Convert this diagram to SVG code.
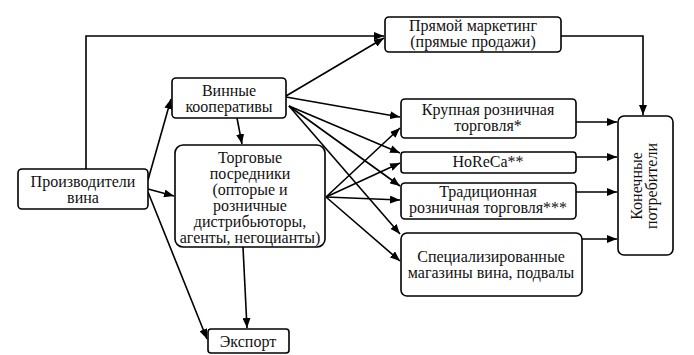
<svg xmlns="http://www.w3.org/2000/svg" width="694" height="355" viewBox="0 0 694 355">
<style>
.box{fill:#fff;stroke:#000;stroke-width:1.6}
text{font-family:'Liberation Serif','Times New Roman','DejaVu Serif',serif;font-size:16px;fill:#111;text-anchor:middle}
.c{fill:none;stroke:#000;stroke-width:1.6;marker-end:url(#ah)}
</style>
<defs>
<marker id="ah" viewBox="0 0 10 8" refX="10" refY="4" markerWidth="10" markerHeight="8" markerUnits="userSpaceOnUse" orient="auto">
<path d="M0,0 L10,4 L0,8 z" fill="#000"/>
</marker>
</defs>
<rect width="694" height="355" fill="#fff"/>
<g id="connectors">
<path class="c" d="M86,169 V36 H384"/>
<path class="c" d="M286,96 L384,38"/>
<path class="c" d="M561,36 H643 V115"/>
<path class="c" d="M148,180 L171,99"/>
<path class="c" d="M148,189 L174,196"/>
<path class="c" d="M148,192 L207,339"/>
<path class="c" d="M237,118 L242,144"/>
<path class="c" d="M243,247 L247,328"/>
<path class="c" d="M286,97 L400,117"/>
<path class="c" d="M289,106 L400,153"/>
<path class="c" d="M289,106 L400,186"/>
<path class="c" d="M289,106 L400,234"/>
<path class="c" d="M326,197 L400,128"/>
<path class="c" d="M326,197 L400,163"/>
<path class="c" d="M326,197 L400,200"/>
<path class="c" d="M326,197 L400,261"/>
<path class="c" d="M576,122 H617"/>
<path class="c" d="M576,157 H617"/>
<path class="c" d="M576,192 H617"/>
<path class="c" d="M582,239 H617"/>
</g>
<g id="producers">
<rect class="box" x="18" y="169" width="130" height="40" rx="4"/>
<text font-family="Liberation Serif" x="83" y="187">Производители</text>
<text font-family="Liberation Serif" x="83" y="203">вина</text>
</g>
<g id="coops">
<rect class="box" x="172" y="78" width="114" height="40" rx="4"/>
<text x="229" y="96">Винные</text>
<text x="229" y="112">кооперативы</text>
</g>
<g id="intermediaries">
<rect class="box" x="175" y="145" width="150" height="102" rx="8"/>
<text x="250" y="163">Торговые</text>
<text x="250" y="179">посредники</text>
<text x="250" y="195">(опторые и</text>
<text x="250" y="211">розничные</text>
<text x="250" y="227">дистрибьюторы,</text>
<text x="250" y="243">агенты, негоцианты)</text>
</g>
<g id="export">
<rect class="box" x="208" y="329" width="81" height="24" rx="3"/>
<text x="248" y="347">Экспорт</text>
</g>
<g id="direct">
<rect class="box" x="385" y="17" width="176" height="35" rx="4"/>
<text x="473" y="31">Прямой маркетинг</text>
<text x="473" y="47">(прямые продажи)</text>
</g>
<g id="large-retail">
<rect class="box" x="401" y="99" width="175" height="39" rx="4"/>
<text x="488" y="115">Крупная розничная</text>
<text x="488" y="131">торговля*</text>
</g>
<g id="horeca">
<rect class="box" x="401" y="152" width="175" height="21" rx="3"/>
<text x="488" y="167">HoReCa**</text>
</g>
<g id="traditional">
<rect class="box" x="401" y="183" width="175" height="36" rx="4"/>
<text x="488" y="197">Традиционная</text>
<text x="488" y="213">розничная торговля***</text>
</g>
<g id="specialized">
<rect class="box" x="401" y="233" width="181" height="63" rx="6"/>
<text x="491" y="262">Специализированные</text>
<text x="491" y="278">магазины вина, подвалы</text>
</g>
<g id="consumers">
<rect class="box" x="618" y="116" width="55" height="139" rx="6"/>
<text transform="translate(645,186) rotate(-90)"><tspan x="0" y="-3">Конечные</tspan><tspan x="0" y="12">потребители</tspan></text>
</g>
</svg>
